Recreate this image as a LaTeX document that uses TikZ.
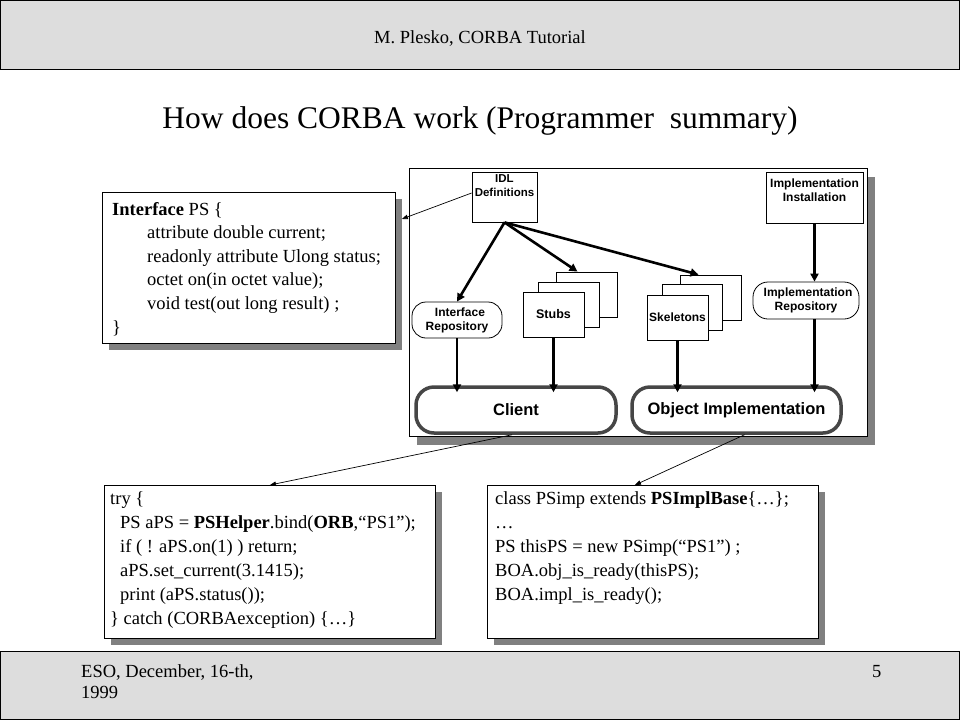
\documentclass[tikz,border=0pt]{standalone}
\usepackage{fontspec}
\setmainfont{Liberation Serif}
\newfontfamily\helvfont{Liberation Sans}
\usetikzlibrary{arrows.meta,positioning,shadows,calc}
\definecolor{slideGray}{RGB}{221,221,221}
\definecolor{shadeGray}{RGB}{128,128,128}
\definecolor{rimGray}{RGB}{70,70,70}

\tikzset{
  codebox/.style={draw, fill=white, line width=0.9pt, anchor=north west, inner sep=0pt,
    general shadow={fill=shadeGray, shadow xshift=7pt, shadow yshift=-7pt}},
  codetext/.style={anchor=base west, align=left, inner sep=0pt,
    font=\fontsize{18.5}{24}\selectfont},
  plainbox/.style={draw, fill=white, line width=0.8pt, inner sep=0pt,
    font=\helvfont\bfseries\fontsize{12}{14}\selectfont, align=center},
  repobox/.style={plainbox, rounded corners=14pt},
  bigbox/.style={draw=rimGray, fill=white, line width=3.5pt, rounded corners=18pt,
    inner sep=0pt, font=\helvfont\bfseries\fontsize{16.5}{18}\selectfont},
  toplabel/.style={anchor=north, inner sep=0pt, align=center,
    font=\helvfont\bfseries\fontsize{11.5}{14}\selectfont},
  bigflow/.style={line width=2.6pt, -{Triangle[length=8pt,width=8pt]}},
  thinflow/.style={line width=0.7pt, -{Triangle[length=6pt,width=4.5pt]}}
}

\begin{document}
\begin{tikzpicture}[x=1pt, y=-1pt]
    \useasboundingbox (0,0) rectangle (960,720);
    % header and footer
    \draw[fill=slideGray, line width=1pt] (0.5,0.5) rectangle (959.5,69);
    \draw[fill=slideGray, line width=1pt] (0.5,651) rectangle (959.5,719.5);
    \node[anchor=base, inner sep=0pt, font=\fontsize{18.5}{20}\selectfont] (header) at (480,43) {M. Plesko, CORBA Tutorial};
    \node[anchor=base, inner sep=0pt, font=\fontsize{31.5}{36}\selectfont] (title) at (480,128) {How does CORBA work (Programmer~ summary)};
    % multi-line texts are placed by their last baseline
    \node[anchor=base west, align=left, inner sep=0pt, font=\fontsize{18.5}{21.5}\selectfont] (date) at (81,698.5) {ESO, December, 16-th,\\1999};
    \node[anchor=base west, inner sep=0pt, font=\fontsize{18.5}{20}\selectfont] (page) at (872,677) {5};

    % CORBA diagram
    \node[draw, fill=white, line width=0.8pt, minimum width=458pt, minimum height=268pt,
      general shadow={fill=shadeGray, shadow xshift=8pt, shadow yshift=-9pt}] (corbaFrame) at (638,302) {};
    \node[plainbox, minimum width=65pt, minimum height=50pt,
      label={[toplabel, yshift=-2.5pt]north:IDL\\Definitions}] (idl) at (504.5,197) {};
    \node[plainbox, minimum width=97pt, minimum height=51pt,
      label={[toplabel, yshift=-7pt, font=\helvfont\bfseries\fontsize{12}{14}\selectfont]north:Implementation\\Installation}] (implInst) at (814.5,197.5) {};
    \node[repobox, minimum width=90pt, minimum height=36pt] (intRep) at (457,320) {\hspace*{6pt}Interface\\Repository};
    \node[repobox, minimum width=106pt, minimum height=37pt, rounded corners=15pt] (implRep) at (806,300.5) {\hspace*{4pt}Implementation\\Repository};
    \node[plainbox, minimum width=61pt, minimum height=45pt] (stubsBack) at (586.5,294.5) {};
    \node[plainbox, minimum width=61pt, minimum height=45pt] (stubsMid) at (568.5,304.5) {};
    \node[plainbox, minimum width=61pt, minimum height=45pt, font=\helvfont\bfseries\fontsize{12.5}{14}\selectfont] (stubs) at (553.5,314.5) {Stubs};
    \node[plainbox, minimum width=61pt, minimum height=45pt] (skelBack) at (710.5,297.5) {};
    \node[plainbox, minimum width=60pt, minimum height=46pt] (skelMid) at (692,307) {};
    \node[plainbox, minimum width=61pt, minimum height=45pt] (skel) at (677.5,317.5) {Skeletons};
    \node[bigbox, minimum width=200pt, minimum height=46pt] (client) at (516,410) {Client};
    \node[bigbox, minimum width=209pt, minimum height=46pt] (objImpl) at (736.5,410) {Object Implementation};

    \draw[bigflow] (idl.south) -- (intRep.north);
    \draw[bigflow] (idl.south) -- ([xshift=-9pt]stubsBack.north);
    \draw[bigflow] (idl.south) -- ([xshift=-12pt]skelBack.north);
    \draw[bigflow] (implInst.south) -- (implInst.south |- implRep.north);
    \draw[bigflow] (intRep.south) -- ($(intRep.south |- client.north)+(0,7)$);
    \draw[bigflow] (stubs.south) -- ($(stubs.south |- client.north)+(0,7)$);
    \draw[bigflow] (skel.south) -- ($(skel.south |- objImpl.north)+(0,7)$);
    \draw[bigflow] (implInst.south |- implRep.south) -- ($(implInst.south |- objImpl.north)+(0,7)$);

    % code boxes
    \node[codebox, minimum width=293pt, minimum height=151pt] (ifaceBox) at (102,192) {};
    \node[codebox, minimum width=331pt, minimum height=153pt] (tryBox) at (104,485) {};
    \node[codebox, minimum width=331pt, minimum height=153pt] (classBox) at (487,485) {};
    \node[codetext, font=\fontsize{18.5}{23.6}\selectfont] (ifaceCode) at (112,333) {\textbf{Interface} PS \{\\
      \hspace*{35pt}attribute double current;\\
      \hspace*{35pt}readonly attribute Ulong status;\\
      \hspace*{35pt}octet on(in octet value);\\
      \hspace*{35pt}void test(out long result) ;\\
      \}};
    \node[codetext] (tryCode) at (110,624) {try \{\\
      \hspace*{10pt}PS aPS = \textbf{PSHelper}.bind(\textbf{ORB},“PS1”);\\
      \hspace*{10pt}if ( ! aPS.on(1) ) return;\\
      \hspace*{10pt}aPS.set\_current(3.1415);\\
      \hspace*{10pt}print (aPS.status());\\
      \} catch (CORBAexception) \{…\}};
    \node[codetext] (classCode) at (495,600) {class PSimp extends \textbf{PSImplBase}\{…\};\\
      …\\
      PS thisPS = new PSimp(“PS1”) ;\\
      BOA.obj\_is\_ready(thisPS);\\
      BOA.impl\_is\_ready();};

    \coordinate (ifaceTip) at ($(ifaceBox.north east)+(6,27)$);
    \draw[thinflow] ([yshift=4pt]idl.west) -- (ifaceTip);
    \draw[thinflow] ([xshift=-4pt]client.south) -- (tryBox.north);
    \draw[thinflow] ([xshift=8pt]objImpl.south) -- ([xshift=-18pt]classBox.north);
\end{tikzpicture}
\end{document}
